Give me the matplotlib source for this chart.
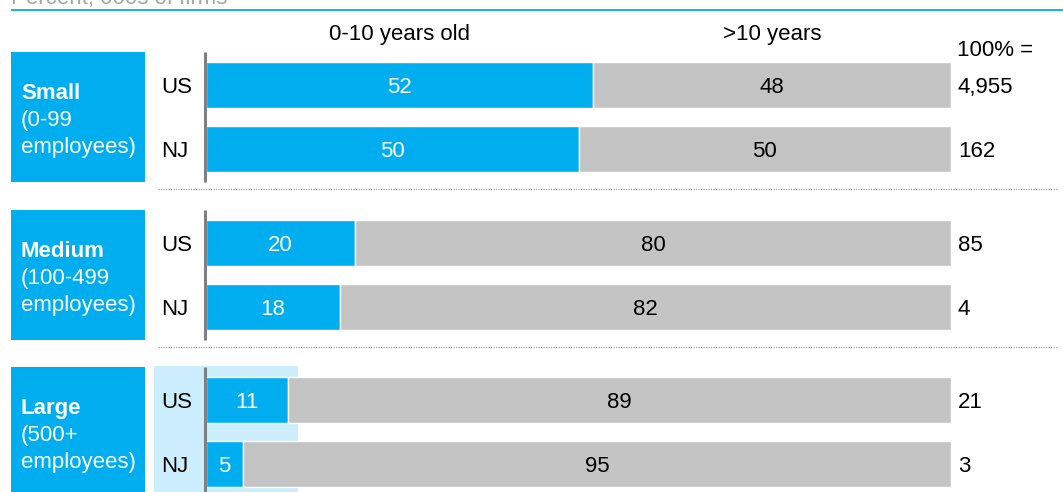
import matplotlib
matplotlib.use("Agg")
import matplotlib.pyplot as plt
from matplotlib.patches import Rectangle

plt.rcParams["font.family"] = ["Liberation Sans", "DejaVu Sans"]

# ---- data -------------------------------------------------------------
groups = ["Small", "Medium", "Large"]
group_ranges = ["(0-99", "(100-499", "(500+"]
regions = ["US", "NJ"]
young_share = [[52, 50], [20, 18], [11, 5]]      # 0-10 years old, %
old_share = [[48, 50], [80, 82], [89, 95]]       # >10 years, %
totals = [["4,955", "162"], ["85", "4"], ["21", "3"]]
col_headers = ["0-10 years old", ">10 years"]
subtitle = "Percent, 000s of firms"

# ---- style -------------------------------------------------------------
CYAN = "#00AEEF"
GREY = "#C4C4C4"
LIGHT = "#CCEEFC"
AXIS = "#808080"
FS = 16
DY = 2.5   # optical nudge: centre text on cap height rather than bbox

W, H = 1063, 492
fig = plt.figure(figsize=(W / 100, H / 100), dpi=100)

# background layer in pixel units for frames, labels and separators
ov = fig.add_axes([0, 0, 1, 1])
ov.set_xlim(0, W)
ov.set_ylim(H, 0)
ov.axis("off")

# bar axes: 0-100 % across the plotting band
bx_left, bx_right = 206, 951
bx = fig.add_axes([bx_left / W, 0, (bx_right - bx_left) / W, 1])
bx.set_xlim(0, 100)
bx.set_ylim(H, 0)
bx.axis("off")
bx.patch.set_alpha(0)

# top layer for the value axis lines
top_ax = fig.add_axes([0, 0, 1, 1])
top_ax.set_xlim(0, W)
top_ax.set_ylim(H, 0)
top_ax.axis("off")
top_ax.patch.set_alpha(0)

group_top = [52, 210, 367]
box_h = 130
row_off = [33, 97]
bar_h = 46

# subtitle (partially above the frame) and rule
ov.text(11, 4, subtitle, fontsize=FS, color="#A6A6A6", va="baseline", ha="left")
ov.plot([11, W], [10, 10], color=CYAN, lw=1.3, solid_capstyle="butt")

# highlight behind the large-firm rows
ov.add_patch(Rectangle((154, 366), 144, 140, facecolor=LIGHT, edgecolor="none", zorder=0))

for g, name in enumerate(groups):
    top = group_top[g]
    # category box
    ov.add_patch(Rectangle((11, top), 134, box_h, facecolor=CYAN, edgecolor="none", zorder=1))
    cy = top + box_h / 2 + DY
    ov.text(21, cy - 26, name, fontsize=FS, fontweight="bold", color="white",
            va="center", ha="left", zorder=2)
    ov.text(21, cy + 1, group_ranges[g], fontsize=FS, color="white",
            va="center", ha="left", zorder=2)
    ov.text(21, cy + 28, "employees)", fontsize=FS, color="white",
            va="center", ha="left", zorder=2)
    # vertical axis line
    top_ax.plot([204.6, 204.6], [top, top + box_h], color=AXIS, lw=2.2,
                solid_capstyle="butt", zorder=3)
    # dotted separator below the group
    if g < len(groups) - 1:
        ov.plot([158, 1057], [top + box_h + 7, top + box_h + 7], color="#A0A0A0",
                lw=0.9, linestyle=(0, (1, 1)), zorder=1)

    for r, reg in enumerate(regions):
        y = top + row_off[r]
        yv, ov_val = young_share[g][r], old_share[g][r]
        bx.barh(y, yv, height=bar_h, left=0, color=CYAN, edgecolor="white",
                linewidth=1.0, zorder=2)
        bx.barh(y, ov_val, height=bar_h, left=yv, color=GREY, edgecolor="white",
                linewidth=1.0, zorder=2)
        bx.text(yv / 2, y + DY, str(yv), fontsize=FS, color="white", ha="center",
                va="center", zorder=3)
        bx.text(yv + ov_val / 2, y + DY, str(ov_val), fontsize=FS, color="black",
                ha="center", va="center", zorder=3)
        ov.text(161, y + DY, reg, fontsize=FS, color="black", ha="left", va="center", zorder=3)
        ov.text(958, y + DY, totals[g][r], fontsize=FS, color="black", ha="left",
                va="center", zorder=3)

# column headers centred over the first row's segments
y_head = 32 + DY
bx.text(young_share[0][0] / 2, y_head, col_headers[0], fontsize=FS, ha="center", va="center")
bx.text(young_share[0][0] + old_share[0][0] / 2, y_head, col_headers[1], fontsize=FS,
        ha="center", va="center")
ov.text(957, 48 + DY, "100% =", fontsize=FS, ha="left", va="center")

fig.savefig("out.png", dpi=100)
